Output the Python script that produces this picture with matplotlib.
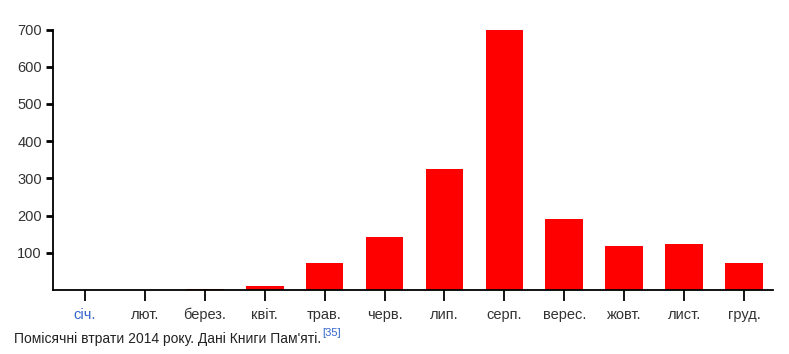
import matplotlib
matplotlib.use("Agg")
import matplotlib.pyplot as plt

# Помісячні втрати 2014 року
months = ["січ.", "лют.", "берез.", "квіт.", "трав.", "черв.",
          "лип.", "серп.", "верес.", "жовт.", "лист.", "груд."]
losses = [0, 0, 2, 10, 73, 143, 326, 700, 192, 117, 124, 73]
yticks = [100, 200, 300, 400, 500, 600, 700]

plt.rcParams['font.family'] = ['Liberation Sans', 'DejaVu Sans']

fig = plt.figure(figsize=(7.89, 3.54), dpi=100)
ax = fig.add_axes([53 / 789, 64 / 354, 720 / 789, 260.5 / 354])

x = list(range(len(months)))
ax.bar(x, losses, width=0.63, color="#ff0000")

ax.set_xlim(-0.53, 11.48)
ax.set_ylim(0, 700)
ax.set_xticks(x)
ax.set_xticklabels(months, fontsize=10.5, color="#333333")
ax.get_xticklabels()[0].set_color("#3366cc")
ax.set_yticks(yticks)
ax.set_yticklabels([str(v) for v in yticks], fontsize=10.5, color="#333333")

for s in ["top", "right"]:
    ax.spines[s].set_visible(False)
ax.spines["left"].set_linewidth(1.3)
ax.spines["bottom"].set_linewidth(1.3)
ax.tick_params(axis="y", length=5, width=2, pad=3)
ax.tick_params(axis="x", length=8, width=1.3, pad=5)

# підпис
cap = fig.text(14 / 789, 11 / 354, "Помісячні втрати 2014 року. Дані Книги Пам'яті.",
               fontsize=10, color="#222222", va="baseline")
fig.canvas.draw()
bb = cap.get_window_extent()
fig.text((bb.x1 + 1) / 789, 18 / 354, "[35]", fontsize=8, color="#3366cc",
         va="baseline")

fig.savefig("out.png", dpi=100)
